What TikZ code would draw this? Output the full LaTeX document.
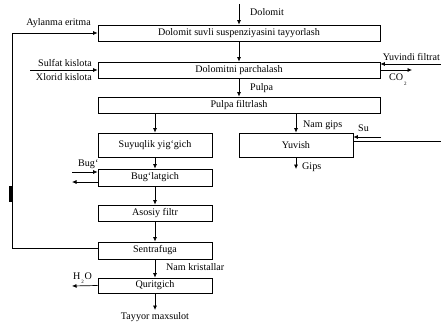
\documentclass[tikz,border=0pt]{standalone}
\usepackage{fontspec}
\setmainfont{Liberation Serif}
\usetikzlibrary{arrows.meta}
\begin{document}
\begin{tikzpicture}[x=1pt,y=-1pt,
  every node/.style={font=\fontsize{10.1}{11}\selectfont, inner sep=0pt},
  box/.style={draw, line width=0.8pt, rectangle, anchor=center},
  lbl/.style={anchor=west},
  arr/.style={line width=0.7pt, -{Latex[length=4.5pt,width=4pt]}},
  ln/.style={line width=0.7pt}]
\clip (0,0) rectangle (441,326);
\fill[white] (0,0) rectangle (441,326);
% boxes
\node[box, minimum width=282pt, minimum height=16pt] (b1) at (239,33) {Dolomit suvli suspenziyasini tayyorlash};
\node[box, minimum width=282pt, minimum height=16pt] (b2) at (239,70) {Dolomitni parchalash};
\node[box, minimum width=282pt, minimum height=16pt] (b3) at (239,105) {Pulpa filtrlash};
\node[box, minimum width=114pt, minimum height=24pt] (b4) at (155,145) {Suyuqlik yig‘gich};
\node[box, minimum width=114pt, minimum height=17pt] (b5) at (155,177.5) {Bug‘latgich};
\node[box, minimum width=114pt, minimum height=16pt] (b6) at (155,213) {Asosiy filtr};
\node[box, minimum width=114pt, minimum height=17pt] (b7) at (155,250.5) {Sentrafuga};
\node[box, minimum width=114pt, minimum height=15pt] (b8) at (155,285.5) {Quritgich};
\node[box, minimum width=114pt, minimum height=24pt] (b9) at (296,145) {Yuvish};
% labels
\node[lbl] (tDol) at (250,12) {Dolomit};
\node[anchor=east] (tAyl) at (91,23) {Aylanma eritma};
\node[anchor=east] (tSul) at (92,63) {Sulfat kislota};
\node[anchor=east] (tXlo) at (92,77) {Xlorid kislota};
\node[anchor=east] (tYuv) at (440,57) {Yuvindi filtrat};
\node[lbl] (tCO) at (389,80) {CO\raisebox{-5pt}{\fontsize{5}{5}\selectfont\,2}};
\node[lbl] (tPul) at (250,88) {Pulpa};
\node[lbl] (tNam) at (303,125) {Nam gips};
\node[lbl] (tSu) at (358,128) {Su};
\node[lbl] (tGip) at (302,167) {Gips};
\node[lbl] (tBug) at (78,164) {Bug‘};
\node[lbl] (tNk) at (166,267) {Nam kristallar};
\node[lbl] (tH) at (73,278) {H\raisebox{-4pt}{\fontsize{5}{5}\selectfont\,2\,}O};
\node (tTay) at (155,317) {Tayyor maxsulot};
% free-end coordinates
\coordinate (cDol) at (239,4);
\coordinate (cL1) at (12,248);
\coordinate (cL2) at (12,33);
\coordinate (cSul) at (30,70);
\coordinate (cYuv) at (441,64);
\coordinate (cCO) at (412,70);
\coordinate (cSu) at (381,137);
\coordinate (cSu2) at (441,141);
\coordinate (cGip) at (296,169);
\coordinate (cBugIn) at (72,172);
\coordinate (cBugOut) at (72,182);
\coordinate (cH) at (72,286);
\coordinate (cTay) at (155,310);
% connectors
\draw[arr] (cDol) -- (b1.north -| cDol);
\draw[arr] (b1.south) -- (b2.north);
\draw[arr] (b2.south) -- (b3.north);
\draw[ln] (b7.west |- cL1) -- (cL1) -- (cL2);
\draw[arr] (cL2) -- (b1.west);
\fill (9,186) rectangle (12.5,202);
\draw[arr] (cSul) -- (b2.west);
\draw[arr] (cYuv) -- (b2.east |- cYuv);
\draw[arr] (b2.east) -- (cCO);
\draw[arr] (b3.south -| b4.north) -- (b4.north);
\draw[arr] (b3.south -| b9.north) -- (b9.north);
\draw[arr] (cSu) -- (b9.east |- cSu);
\draw[ln] (b9.east |- cSu2) -- (cSu2);
\draw[arr] (b9.south) -- (cGip);
\draw[arr] (b4.south) -- (b5.north);
\draw[arr] (cBugIn) -- (b5.west |- cBugIn);
\draw[arr] (b5.west |- cBugOut) -- (cBugOut);
\draw[arr] (b5.south) -- (b6.north);
\draw[arr] (b6.south) -- (b7.north);
\draw[arr] (b7.south) -- (b8.north);
\draw[arr] (b8.west) -- (cH);
\draw[arr] (b8.south) -- (cTay);
\end{tikzpicture}
\end{document}
